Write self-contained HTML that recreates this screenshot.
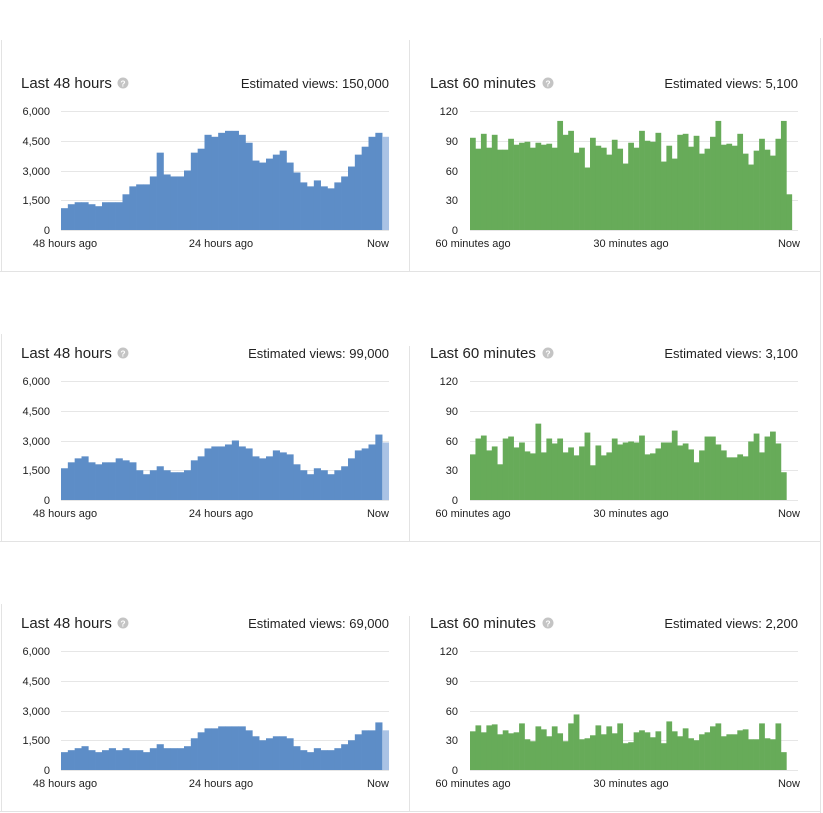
<!DOCTYPE html>
<html><head><meta charset="utf-8"><style>
html,body{margin:0;padding:0;background:#fff;}
svg{display:block;font-family:"Liberation Sans",Arial,sans-serif;}
.t{font-size:15px;fill:#222;}
.v{font-size:13px;fill:#222;}
.g{stroke:#e6e6e6;stroke-width:1;}
.b{stroke:#e3e3e3;stroke-width:1;}
</style></head><body>
<svg id="s" width="823" height="813" viewBox="0 0 823 813" xmlns="http://www.w3.org/2000/svg">
<g id="bars"></g>
<line class="b" x1="1.5" y1="40" x2="1.5" y2="271"/><line class="b" x1="409.5" y1="40" x2="409.5" y2="271"/>
<line class="b" x1="1.5" y1="334" x2="1.5" y2="541"/><line class="b" x1="409.5" y1="346" x2="409.5" y2="541"/>
<line class="b" x1="1.5" y1="604" x2="1.5" y2="811"/><line class="b" x1="409.5" y1="616" x2="409.5" y2="811"/>
<line class="b" x1="820.5" y1="38" x2="820.5" y2="813"/>
<line class="b" x1="0" y1="271.5" x2="821" y2="271.5"/><line class="b" x1="0" y1="541.5" x2="821" y2="541.5"/><line class="b" x1="0" y1="811.5" x2="821" y2="811.5"/>
<g>
<text class="t" x="21" y="88">Last 48 hours</text>
<text class="v" x="389" y="88" text-anchor="end">Estimated views: 150,000</text>
<text class="t" x="430" y="88">Last 60 minutes</text>
<text class="v" x="798" y="88" text-anchor="end">Estimated views: 5,100</text>
</g>
<g transform="translate(0,270)">
<text class="t" x="21" y="88">Last 48 hours</text>
<text class="v" x="389" y="88" text-anchor="end">Estimated views: 99,000</text>
<text class="t" x="430" y="88">Last 60 minutes</text>
<text class="v" x="798" y="88" text-anchor="end">Estimated views: 3,100</text>
</g>
<g transform="translate(0,540)">
<text class="t" x="21" y="88">Last 48 hours</text>
<text class="v" x="389" y="88" text-anchor="end">Estimated views: 69,000</text>
<text class="t" x="430" y="88">Last 60 minutes</text>
<text class="v" x="798" y="88" text-anchor="end">Estimated views: 2,200</text>
</g>
<g id="axes"></g>
</svg>
<script>
var L=[[1100,1300,1400,1400,1300,1200,1400,1400,1400,1800,2200,2300,2300,2700,3900,2800,2700,2700,3000,3900,4100,4800,4700,4900,5000,5000,4800,4400,3500,3400,3600,3800,4000,3400,2900,2400,2200,2500,2200,2100,2400,2700,3200,3800,4200,4700,4900,4700],
[1600,1900,2100,2200,1900,1800,1900,1900,2100,2000,1900,1500,1300,1500,1700,1500,1400,1400,1500,2000,2200,2600,2700,2700,2800,3000,2700,2600,2200,2100,2200,2500,2400,2300,1800,1500,1300,1600,1500,1300,1500,1700,2100,2500,2600,2800,3300,2900],
[900,1000,1100,1200,1000,900,1000,1100,1000,1100,1000,1000,900,1100,1300,1100,1100,1100,1200,1600,1900,2100,2100,2200,2200,2200,2200,2000,1700,1500,1600,1700,1700,1600,1200,1000,900,1100,1000,1000,1100,1300,1500,1800,2000,2000,2400,2000]];
var R=[[93,82,97,83,96,81,81,92,86,88,89,83,88,86,87,83,110,96,100,78,83,63,93,85,83,76,91,82,67,88,83,100,90,89,98,69,85,72,96,97,84,95,77,82,94,110,86,87,85,97,77,66,80,92,81,75,92,110,36],
[46,62,65,50,54,36,62,64,53,58,49,47,77,48,62,57,62,48,53,45,54,68,35,55,45,48,62,56,58,59,58,65,46,47,52,58,58,70,55,57,51,38,50,64,64,56,50,43,43,46,44,59,67,48,64,69,57,28],
[39,45,38,45,46,36,40,37,38,47,31,29,44,41,34,44,37,29,47,56,31,32,35,45,36,44,37,47,27,28,38,40,38,33,39,27,49,39,34,42,32,30,36,38,44,47,34,36,36,40,41,31,31,47,32,31,47,18]];
var NS="http://www.w3.org/2000/svg",bars=document.getElementById('bars'),ax=document.getElementById('axes');
function el(p,n,a,t){var e=document.createElementNS(NS,n);for(var k in a)e.setAttribute(k,a[k]);if(t!=null)e.textContent=t;p.appendChild(e);return e;}
for(var r=0;r<3;r++){
 var dy=270*r,y0=230+dy,H=119;
 for(var i=0;i<5;i++){var y=Math.round(y0-H*i/4)+0.5;
  el(bars,'line',{class:'g',x1:61,x2:389,y1:y,y2:y});
  el(bars,'line',{class:'g',x1:470,x2:798,y1:y,y2:y});}
 var d=L[r],w=328/48;
 for(var i=0;i<47;i++){var h=d[i]/6000*H;el(bars,'rect',{x:61+i*w,y:y0-h,width:w+0.3,height:h,fill:'#5d8dc7'});}
 var h=d[47]/6000*H;el(bars,'rect',{x:61+47*w,y:y0-h,width:w,height:h,fill:'#aac3e5'});
 d=R[r];w=5.455;
 for(var i=0;i<d.length;i++){var h=d[i]/120*H;el(bars,'rect',{x:470+i*w,y:y0-h,width:w+0.3,height:h,fill:'#67ab59'});}
 [123,548].forEach(function(cx){el(ax,'circle',{cx:cx,cy:83+dy,r:5.5,fill:'#c4c4c4'});el(ax,'text',{x:cx,y:86.5+dy,'text-anchor':'middle','font-size':'8.5','font-weight':'bold',fill:'#fff'},'?');});
}
</script>
<div style="position:absolute;left:0;top:0;width:823px;height:813px;pointer-events:none">
<svg width="823" height="813" style="position:absolute;left:0;top:0" font-family="Liberation Sans, Arial, sans-serif" font-size="11" fill="#222">
<g text-anchor="end">
<text x="50" y="115">6,000</text><text x="50" y="145">4,500</text><text x="50" y="175">3,000</text><text x="50" y="204">1,500</text><text x="50" y="234">0</text>
<text x="458" y="115">120</text><text x="458" y="145">90</text><text x="458" y="175">60</text><text x="458" y="204">30</text><text x="458" y="234">0</text>
<text x="50" y="385">6,000</text><text x="50" y="415">4,500</text><text x="50" y="445">3,000</text><text x="50" y="474">1,500</text><text x="50" y="504">0</text>
<text x="458" y="385">120</text><text x="458" y="415">90</text><text x="458" y="445">60</text><text x="458" y="474">30</text><text x="458" y="504">0</text>
<text x="50" y="655">6,000</text><text x="50" y="685">4,500</text><text x="50" y="715">3,000</text><text x="50" y="744">1,500</text><text x="50" y="774">0</text>
<text x="458" y="655">120</text><text x="458" y="685">90</text><text x="458" y="715">60</text><text x="458" y="744">30</text><text x="458" y="774">0</text>
<text x="389" y="247">Now</text><text x="800" y="247">Now</text>
<text x="389" y="517">Now</text><text x="800" y="517">Now</text>
<text x="389" y="787">Now</text><text x="800" y="787">Now</text>
</g>
<g text-anchor="middle">
<text x="65" y="247">48 hours ago</text><text x="221" y="247">24 hours ago</text>
<text x="473" y="247">60 minutes ago</text><text x="631" y="247">30 minutes ago</text>
<text x="65" y="517">48 hours ago</text><text x="221" y="517">24 hours ago</text>
<text x="473" y="517">60 minutes ago</text><text x="631" y="517">30 minutes ago</text>
<text x="65" y="787">48 hours ago</text><text x="221" y="787">24 hours ago</text>
<text x="473" y="787">60 minutes ago</text><text x="631" y="787">30 minutes ago</text>
</g>
</svg>
</div>
</body></html>
